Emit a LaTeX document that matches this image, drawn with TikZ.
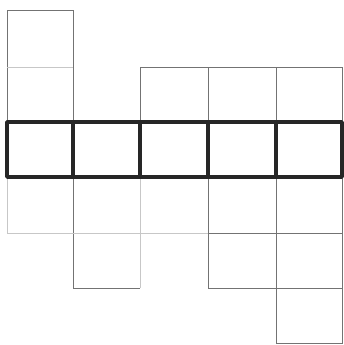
\documentclass[tikz,border=0pt]{standalone}
\begin{document}
\begin{tikzpicture}[x=1pt,y=-1pt,
  thin line/.style={draw=black!55,line width=0.7pt},
  faint line/.style={draw=black!22,line width=0.6pt},
  thick line/.style={draw=black!85,line width=3.6pt,line join=round}]
\useasboundingbox (0,0) rectangle (344,345);
% column 1 (above and below)
\coordinate (c1tl) at (7,10);
\coordinate (c1tr) at (73,10);
\draw[thin line] (7,122) -- (c1tl) -- (c1tr) -- (73,122);
\draw[faint line] (7,67) -- (73,67);
\draw[faint line] (7,177) -- (7,233) -- (73,233);
% upper squares of columns 3-5
\draw[thin line] (140,122) -- (140,67) -- (342,67) -- (342,122);
\draw[thin line] (208,67) -- (208,122);
\draw[thin line] (276,67) -- (276,122);
% column 2 below
\draw[thin line] (73,177) -- (73,288) -- (140,288);
\draw[faint line] (73,233) -- (140,233);
% column 3 below
\draw[faint line] (140,177) -- (140,288);
\draw[faint line] (140,233) -- (208,233);
% column 4 below
\draw[thin line] (208,177) -- (208,288) -- (276,288);
\draw[thin line] (208,233) -- (276,233);
% column 5 below
\draw[thin line] (276,177) -- (276,343) -- (342,343) -- (342,177);
\draw[thin line] (276,233) -- (342,233);
\draw[thin line] (276,288) -- (342,288);
% thick band
\draw[thick line] (7,122) rectangle (342,177);
\foreach \x in {73,140,208,276}
  \draw[thick line] (\x,122) -- (\x,177);
\end{tikzpicture}
\end{document}
